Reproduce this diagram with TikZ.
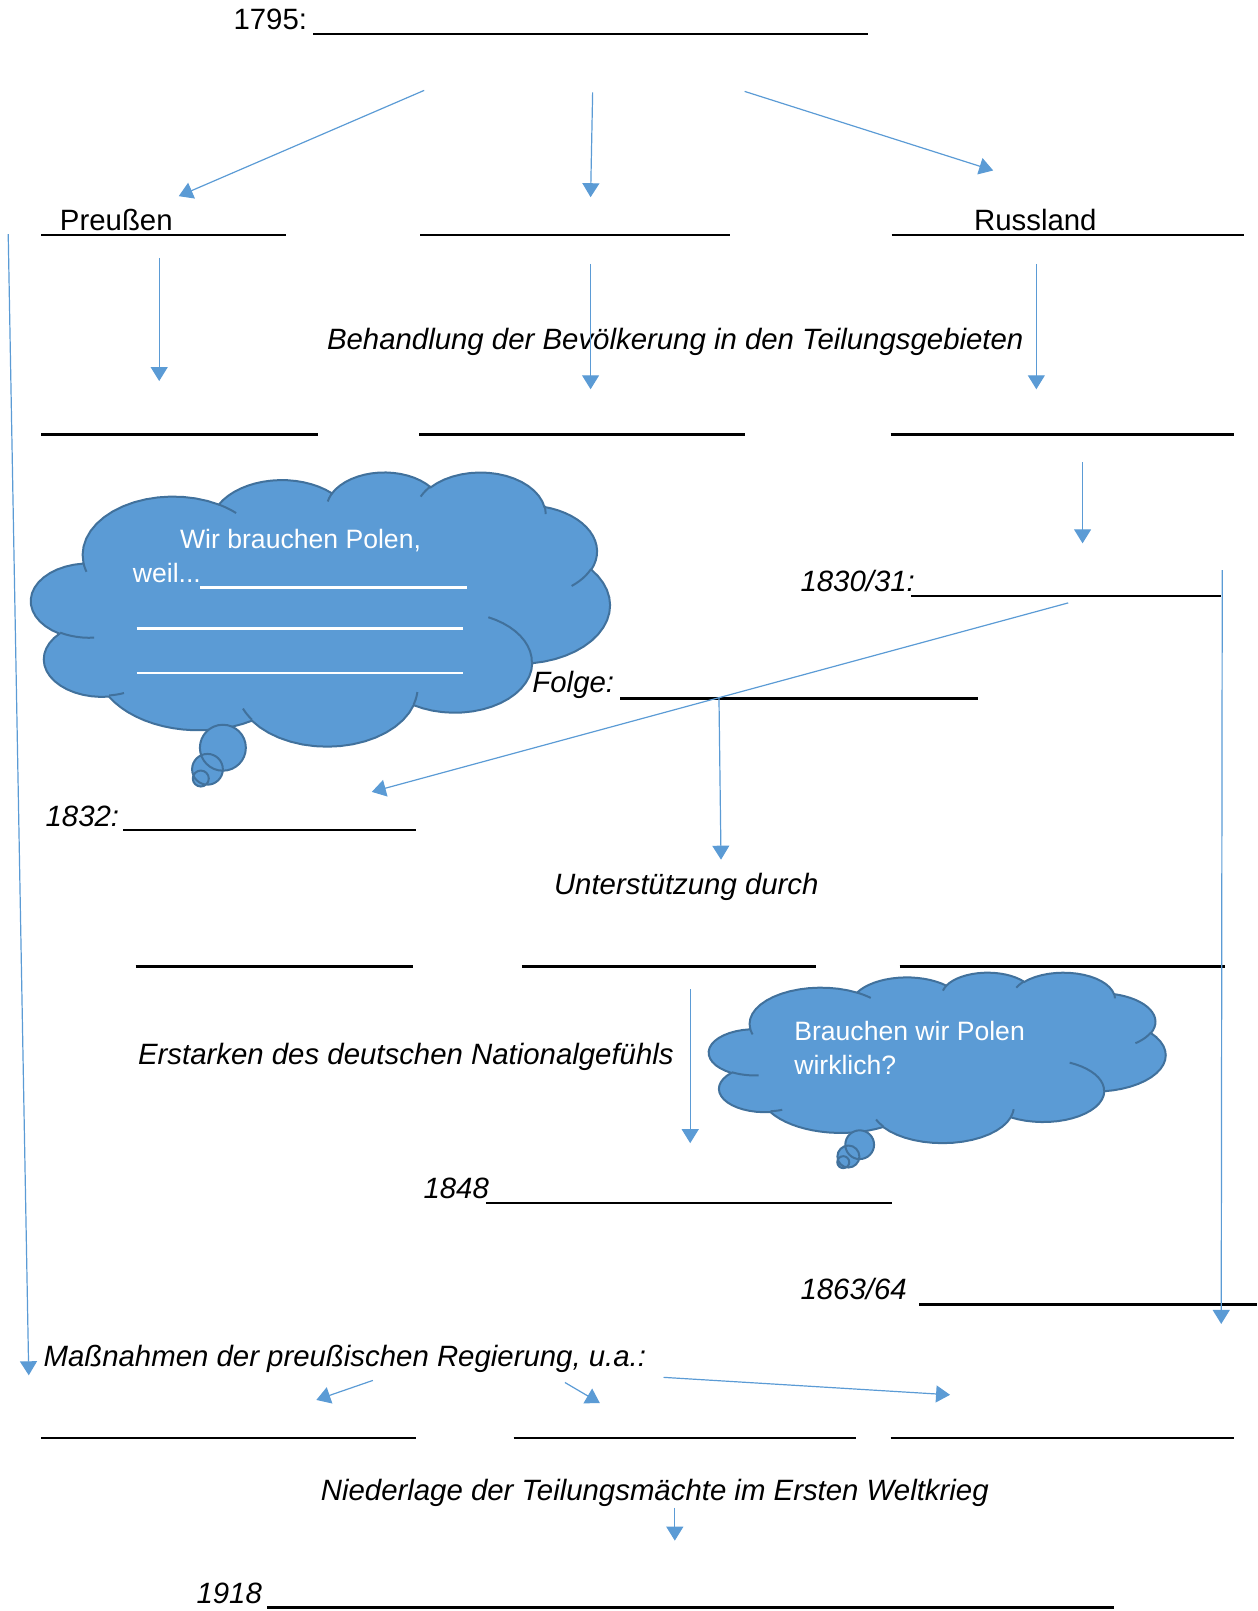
\documentclass[tikz,border=0pt]{standalone}
\usepackage{fontspec}
\setmainfont{Liberation Sans}
\usetikzlibrary{arrows.meta}
\definecolor{arrowblue}{HTML}{5B9BD5}
\definecolor{cloudfill}{HTML}{5B9BD5}
\definecolor{cloudline}{HTML}{41719C}

\makeatletter
\newif\ifcld@track
\def\cldX{39.00}\def\cldY{143.70}
\def\cldXmin{39}\def\cldXmax{39}\def\cldYmin{143.7}\def\cldYmax{143.7}
\def\cldPath{(39.00,143.70)}
\def\cldInner{}
% #1 target macro, #2 wR, #3 hR, #4 stAng, #5 swAng, #6 samples
\newcommand\cldSeg[6]{%
  \pgfmathsetmacro\cld@tz{atan2((#2)*sin(#4),(#3)*cos(#4))}%
  \pgfmathsetmacro\cld@te{atan2((#2)*sin((#4)+(#5)),(#3)*cos((#4)+(#5)))}%
  \pgfmathsetmacro\cld@te{ifthenelse((\cld@te)<(\cld@tz),(\cld@te)+360,(\cld@te))}%
  \pgfmathsetmacro\cld@mx{(\cldX)-(#2)*cos(\cld@tz)}%
  \pgfmathsetmacro\cld@my{(\cldY)-(#3)*sin(\cld@tz)}%
  \foreach \cld@k in {1,...,#6}{%
    \pgfmathsetmacro\cld@t{(\cld@tz)+((\cld@te)-(\cld@tz))*\cld@k/#6}%
    \pgfmathsetmacro\cld@px{(\cld@mx)+(#2)*cos(\cld@t)}%
    \pgfmathsetmacro\cld@py{(\cld@my)+(#3)*sin(\cld@t)}%
    \xdef#1{#1 -- (\cld@px,\cld@py)}%
    \xdef\cldX{\cld@px}\xdef\cldY{\cld@py}%
    \ifcld@track
      \pgfmathsetmacro\cld@a{min(\cldXmin,\cld@px)}\xdef\cldXmin{\cld@a}%
      \pgfmathsetmacro\cld@a{max(\cldXmax,\cld@px)}\xdef\cldXmax{\cld@a}%
      \pgfmathsetmacro\cld@a{min(\cldYmin,\cld@py)}\xdef\cldYmin{\cld@a}%
      \pgfmathsetmacro\cld@a{max(\cldYmax,\cld@py)}\xdef\cldYmax{\cld@a}%
    \fi
  }%
}
\newcommand\cldMove[2]{\xdef\cldX{#1}\xdef\cldY{#2}\xdef\cldInner{\cldInner\space(#1,#2)}}
% outline
\cld@tracktrue
\cldSeg\cldPath{67.53}{91.90}{-190.487483}{123.780533}{16}
\cldSeg\cldPath{53.33}{72.67}{-144.102383}{89.945233}{16}
\cldSeg\cldPath{43.65}{59.45}{-145.807917}{99.723017}{16}
\cldSeg\cldPath{48.57}{65.95}{-130.986067}{117.241733}{16}
\cldSeg\cldPath{53.33}{72.73}{-78.708883}{109.026917}{16}
\cldSeg\cldPath{67.75}{92.20}{-46.26725}{130.269}{16}
\cldSeg\cldPath{57.85}{78.67}{0.625017}{114.033333}{16}
\cldSeg\cldPath{67.52}{92.15}{22.4516}{115.17255}{16}
\cldSeg\cldPath{77.20}{105.43}{66.242633}{75.711017}{16}
\cldSeg\cldPath{43.60}{59.18}{-274.942083}{146.735567}{16}
\cldSeg\cldPath{43.45}{59.45}{-246.8285}{152.51885}{16}
% inner lines
\cld@trackfalse
\cldMove{46.93}{261.77}\cldSeg\cldInner{43.45}{59.45}{86.742}{26.4295}{6}
\cldMove{69.28}{348.99}\cldSeg\cldInner{43.60}{59.18}{73.61047}{11.44747}{6}
\cldMove{164.78}{390.90}\cldSeg\cldInner{67.52}{92.15}{137.62415}{14.0811}{6}
\cldMove{288.27}{347.51}\cldSeg\cldInner{67.52}{92.15}{6.45327}{15.99835}{6}
\cldMove{341.29}{229.54}\cldSeg\cldInner{57.85}{78.67}{-70.29235}{70.91737}{10}
\cldMove{417.98}{153.54}\cldSeg\cldInner{53.33}{72.73}{30.31803}{27.7515}{6}
\cldMove{383.24}{54.26}\cldSeg\cldInner{48.57}{65.95}{-13.74433}{14.8589}{6}
\cldMove{290.78}{39.52}\cldSeg\cldInner{48.57}{65.95}{-149.18145}{18.19537}{6}
\cldMove{221.41}{47.20}\cldSeg\cldInner{43.65}{59.45}{-163.49427}{17.68635}{6}
\cldMove{140.00}{51.92}\cldSeg\cldInner{67.53}{91.90}{-66.70695}{12.31935}{6}
\cldMove{41.27}{157.89}\cldSeg\cldInner{67.53}{91.90}{157.65435}{11.85817}{6}
\makeatother

\newcommand\drawcloud[4]{%
  \pgfmathsetmacro\cldSX{(#3)/((\cldXmax)-(\cldXmin))}%
  \pgfmathsetmacro\cldSY{(#4)/((\cldYmax)-(\cldYmin))}%
  \pgfmathsetmacro\cldOX{-1*(\cldXmin)}%
  \pgfmathsetmacro\cldOY{-1*(\cldYmin)}%
  \begin{scope}[shift={(#1,#2)}, xscale=\cldSX, yscale=\cldSY, shift={(\cldOX,\cldOY)}]
    \filldraw[cloudst] \cldPath -- cycle;
    \draw[cloudst, fill=none] \cldInner;
  \end{scope}%
}

\tikzset{
  arr/.style={draw=arrowblue, line width=0.6pt, -{Triangle[length=7pt,width=8.5pt]}},
  uline/.style={line width=1.1pt, black},
  wline/.style={line width=1.1pt, white},
  txt/.style={inner sep=0pt, anchor=base west, font=\fontsize{14.7}{17}\selectfont},
  itx/.style={txt, font=\fontsize{14.7}{17}\selectfont\itshape},
  wtx/.style={inner sep=0pt, anchor=base west, text=white, font=\fontsize{13.3}{16}\selectfont},
  cloudst/.style={fill=cloudfill, draw=cloudline, line width=1pt},
}

\begin{document}
\begin{tikzpicture}[x=0.5139pt, y=-0.5139pt]
\useasboundingbox (0,0) rectangle (1224,1568.5);

% ---------- clouds ----------
\drawcloud{30}{460}{564}{267}
\filldraw[cloudst] (217,728) circle[radius=11.5pt] (202,749) circle[radius=7.7pt] (195.5,758) circle[radius=4pt];
\drawcloud{690}{947}{445}{166}
\filldraw[cloudst] (837,1114.5) circle[radius=7.2pt] (826,1126) circle[radius=5.5pt] (821,1131.5) circle[radius=3pt];

% ---------- texts ----------
\node[txt] (t1795) at (227,29) {1795:};
\node[txt] (tpr) at (58,224) {Preußen};
\node[txt] (tru) at (948,224) {Russland};
\node[itx] (tbeh) at (318,340) {Behandlung der Bevölkerung in den Teilungsgebieten};
\node[wtx] (twir) at (175,534) {Wir brauchen Polen,};
\node[wtx] (tweil) at (129,567) {weil...};
\node[itx] (t1830) at (779,576) {1830/31:};
\node[itx] (tfolge) at (518,674) {Folge:};
\node[itx] (t1832) at (44,805) {1832:};
\node[itx] (tunt) at (539,871) {Unterstützung durch};
\node[itx] (terst) at (134,1036) {Erstarken des deutschen Nationalgefühls};
\node[wtx] (tbrau) at (773,1013) {Brauchen wir Polen};
\node[wtx] (twirk) at (773,1046) {wirklich?};
\node[itx] (t1848) at (412,1167) {1848};
\node[itx] (t1863) at (779,1265) {1863/64};
\node[itx] (tmass) at (42,1330) {Maßnahmen der preußischen Regierung, u.a.:};
\node[itx] (tnied) at (312,1461) {Niederlage der Teilungsmächte im Ersten Weltkrieg};
\node[itx] (t1918) at (191,1561) {1918};

% ---------- blank lines ----------
\draw[uline] (305,33) -- (845,33);
\draw[uline] (40,229) -- (278,229);
\draw[uline] (409,229) -- (711,229);
\draw[uline] (868,229) -- (1211,229);
\draw[uline] (40,423) -- (310,423);
\draw[uline] (408,423) -- (725,423);
\draw[uline] (867,423) -- (1201,423);
\draw[wline] (195,572) -- (455,572);
\draw[wline] (133,612) -- (451,612);
\draw[wline] (133,655) -- (451,655);
\draw[uline] (887,580) -- (1189,580);
\draw[uline] (604,680) -- (952,680);
\draw[uline] (120,808) -- (405,808);
\draw[uline] (132,941) -- (402,941);
\draw[uline] (508,941) -- (794,941);
\draw[uline] (876,941) -- (1193,941);
\draw[uline] (473,1171) -- (868,1171);
\draw[uline] (895,1270) -- (1224,1270);
\draw[uline] (40,1400) -- (405,1400);
\draw[uline] (500,1400) -- (833,1400);
\draw[uline] (867,1400) -- (1201,1400);
\draw[uline] (260,1565) -- (1085,1565);

% ---------- connector end points ----------
\coordinate (a1s) at (413,88);   \coordinate (a1e) at (174,191);
\coordinate (a2s) at (577,90);   \coordinate (a2e) at (575,192);
\coordinate (a3s) at (725,89);   \coordinate (a3e) at (967,166);
\coordinate (a4s) at (8,228);    \coordinate (a4e) at (28,1339);
\coordinate (a5s) at (155,251);  \coordinate (a5e) at (155,371);
\coordinate (a6s) at (575,257);  \coordinate (a6e) at (575,379);
\coordinate (a7s) at (1009,257); \coordinate (a7e) at (1009,379);
\coordinate (a8s) at (1054,450); \coordinate (a8e) at (1054,529);
\coordinate (a9s) at (1190,555); \coordinate (a9e) at (1189,1289);
\coordinate (a10s) at (1040,587); \coordinate (a10e) at (362,771);
\coordinate (a11s) at (700,679); \coordinate (a11e) at (702,837);
\coordinate (a12s) at (672,963); \coordinate (a12e) at (672,1113);
\coordinate (a13s) at (363,1344); \coordinate (a13e) at (308,1363);
\coordinate (a14s) at (550,1346); \coordinate (a14e) at (584,1366);
\coordinate (a15s) at (646,1341); \coordinate (a15e) at (925,1358);
\coordinate (a16s) at (657,1468); \coordinate (a16e) at (657,1500);

\foreach \i in {1,...,16}{\draw[arr] (a\i s) -- (a\i e);}
\end{tikzpicture}
\end{document}
